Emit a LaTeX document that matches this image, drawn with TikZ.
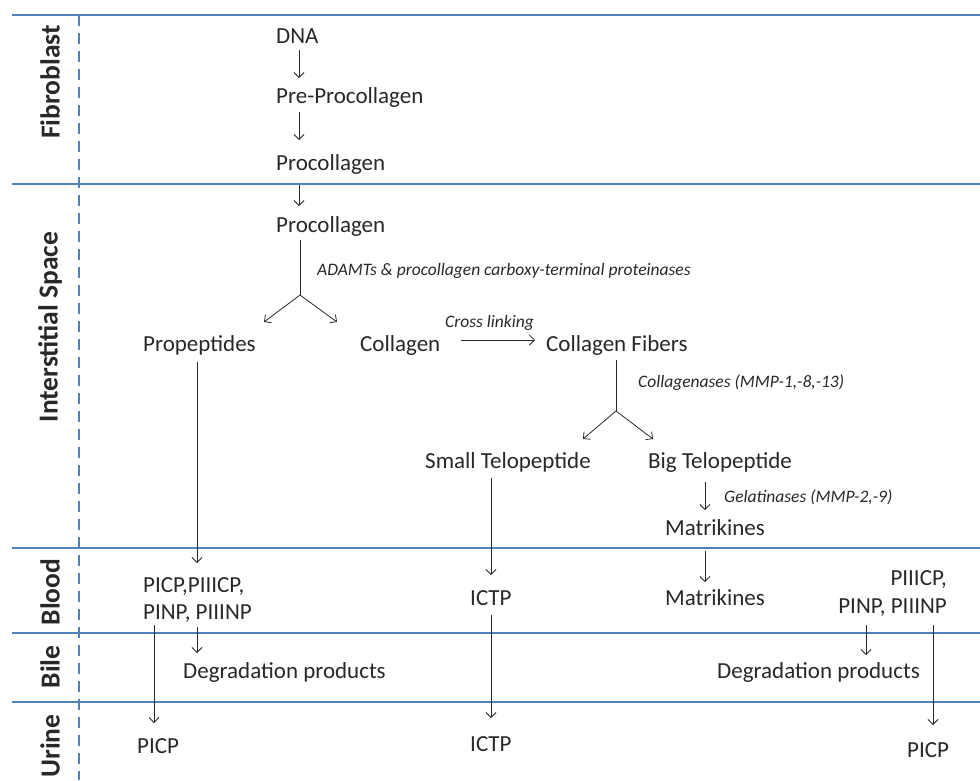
\documentclass[tikz,border=0pt]{standalone}
\usepackage{fontspec}
\setmainfont{Carlito}
\usetikzlibrary{positioning,arrows.meta}
\definecolor{laneblue}{RGB}{79,129,189}
\definecolor{ink}{RGB}{40,40,40}

\begin{document}
\begin{tikzpicture}[x=1pt,y=-1pt,
  every node/.style={inner sep=0pt,text=ink},
  item/.style={anchor=base west,font=\fontsize{23}{27}\selectfont},
  itemr/.style={anchor=base east,font=\fontsize{23}{27}\selectfont},
  enzyme/.style={anchor=base west,font=\fontsize{17.5}{20}\selectfont\itshape},
  region/.style={rotate=90,font=\fontsize{27.5}{32}\selectfont\bfseries},
  lane/.style={laneblue,line width=2pt},
  flow/.style={-{Straight Barb[length=5pt,width=10pt]},ink,line width=0.8pt}]

\useasboundingbox (0,0) rectangle (980,780);

%draw lanes
  \foreach \y in {15,184,548,633,702}
    \draw[lane] (12,\y) -- (980,\y);
  \draw[laneblue!85!gray,line width=2.5pt,dash pattern=on 11pt off 7pt] (79,15) -- (79,780);

%label lanes
  \node[region] (fib) at (50,82) {Fibroblast};
  \node[region] (inter) at (50,327) {Interstitial Space};
  \node[region] (blood) at (50,592) {Blood};
  \node[region] (bile) at (50,667) {Bile};
  \node[region] (urine) at (50,746) {Urine};

%fibroblast
  \node[item] (dna) at (276,43) {DNA};
  \node[item] (prepro) at (276,103) {Pre-Procollagen};
  \node[item] (procA) at (276,170) {Procollagen};

%interstitial space
  \node[item] (procB) at (276,232) {Procollagen};
  \node[enzyme] (adamts) at (317,275) {ADAMTs \& procollagen carboxy-terminal proteinases};
  \node[item] (propep) at (143,351) {Propeptides};
  \node[item] (coll) at (360,351) {Collagen};
  \node[enzyme] (cross) at (445,327) {Cross linking};
  \node[item] (fibers) at (546,351) {Collagen Fibers};
  \node[enzyme] (collase) at (638,387) {Collagenases (MMP-1,-8,-13)};
  \node[item] (smalltp) at (425,468) {Small Telopeptide};
  \node[item] (bigtp) at (648,468) {Big Telopeptide};
  \node[enzyme] (gelase) at (724,502) {Gelatinases (MMP-2,-9)};
  \node[item] (matA) at (665,535) {Matrikines};

%blood
  \node[item] (picpA) at (143,592) {PICP,PIIICP,};
  \node[item] (pinpA) at (143,619) {PINP, PIIINP};
  \node[item] (ictpA) at (470,605) {ICTP};
  \node[item] (matB) at (665,605) {Matrikines};
  \node[itemr] (piiicpB) at (947,585) {PIIICP,};
  \node[itemr] (pinpB) at (947,613) {PINP, PIIINP};

%bile and urine
  \node[item] (degrA) at (183,678) {Degradation products};
  \node[item] (degrB) at (717,678) {Degradation products};
  \node[item] (picpU) at (137,753) {PICP};
  \node[item] (ictpU) at (470,751) {ICTP};
  \node[item] (picpV) at (907,757) {PICP};

%split points
  \coordinate (splitA) at (300,295);
  \coordinate (toPropep) at (264,322);
  \coordinate (toColl) at (337,322);
  \coordinate (splitB) at (616,411);
  \coordinate (toSmall) at (583,439);
  \coordinate (toBig) at (653,439);

%draw flow
  \draw[flow] ([xshift=23pt,yshift=-7pt]dna.base west) -- ([xshift=23pt,yshift=25pt]prepro.base west);
  \draw[flow] ([xshift=23pt,yshift=-9pt]prepro.base west) -- ([xshift=23pt,yshift=30pt]procA.base west);
  \draw[flow] ([xshift=23pt,yshift=-15pt]procA.base west) -- ([xshift=23pt,yshift=26pt]procB.base west);
  \draw[ink,line width=0.8pt] ([xshift=24pt,yshift=-8pt]procB.base west) -- (splitA);
  \draw[flow] (splitA) -- (toPropep);
  \draw[flow] (splitA) -- (toColl);
  \draw[flow] ([xshift=20pt,yshift=11pt]coll.base east) -- ([xshift=-11pt,yshift=11pt]fibers.base west);
  \draw[ink,line width=0.8pt] ([xshift=70pt,yshift=-9pt]fibers.base west) -- (splitB);
  \draw[flow] (splitB) -- (toSmall);
  \draw[flow] (splitB) -- (toBig);
  \draw[flow] ([xshift=54pt,yshift=-11pt]propep.base west) -- ([xshift=54pt,yshift=29pt]picpA.base west);
  \draw[flow] ([xshift=66pt,yshift=-10pt]smalltp.base west) -- ([xshift=21pt,yshift=30pt]ictpA.base west);
  \draw[flow] ([xshift=57pt,yshift=-14pt]bigtp.base west) -- ([xshift=40pt,yshift=25pt]matA.base west);
  \draw[flow] ([xshift=40pt,yshift=-16pt]matA.base west) -- ([xshift=40pt,yshift=23pt]matB.base west);
  \draw[flow] ([xshift=54pt,yshift=-8pt]pinpA.base west) -- ([xshift=14pt,yshift=25pt]degrA.base west);
  \draw[flow] ([xshift=11pt,yshift=-6pt]pinpA.base west) -- ([xshift=17pt,yshift=30pt]picpU.base west);
  \draw[flow] ([xshift=21pt,yshift=-10pt]ictpA.base west) -- ([xshift=21pt,yshift=33pt]ictpU.base west);
  \draw[flow] ([xshift=-81pt,yshift=-12pt]pinpB.base east) -- ([xshift=149pt,yshift=23pt]degrB.base west);
  \draw[flow] ([xshift=-14pt,yshift=-12pt]pinpB.base east) -- ([xshift=26pt,yshift=32pt]picpV.base west);

\end{tikzpicture}
\end{document}
